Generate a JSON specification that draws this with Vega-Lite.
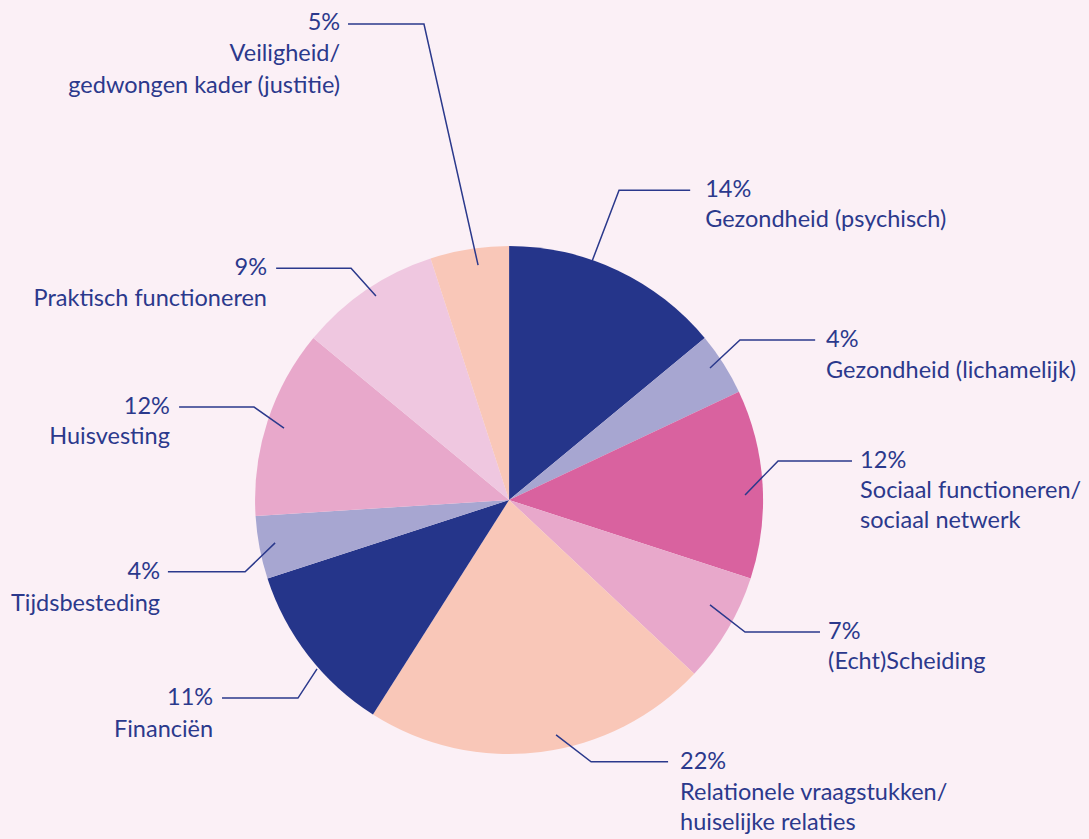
{
  "$schema": "https://vega.github.io/schema/vega-lite/v6.json",
  "autosize": {"type": "fit", "contains": "padding"},
  "width": 1089,
  "height": 839,
  "padding": 0,
  "background": "#fbf0f6",
  "config": {"view": {"stroke": null}},
  "datasets": {
    "slices": [
      {"cat": "Gezondheid (psychisch)", "pct": 14, "order": 1},
      {"cat": "Gezondheid (lichamelijk)", "pct": 4, "order": 2},
      {"cat": "Sociaal functioneren/sociaal netwerk", "pct": 12, "order": 3},
      {"cat": "(Echt)Scheiding", "pct": 7, "order": 4},
      {"cat": "Relationele vraagstukken/huiselijke relaties", "pct": 22, "order": 5},
      {"cat": "Financiën", "pct": 11, "order": 6},
      {"cat": "Tijdsbesteding", "pct": 4, "order": 7},
      {"cat": "Huisvesting", "pct": 12, "order": 8},
      {"cat": "Praktisch functioneren", "pct": 9, "order": 9},
      {"cat": "Veiligheid/gedwongen kader (justitie)", "pct": 5, "order": 10}
    ],
    "leaders": [
      {"cat": "Gezondheid (psychisch)", "i": 1, "X": 32.7, "Y": 94.1},
      {"cat": "Gezondheid (psychisch)", "i": 2, "X": 43.3, "Y": 122.0},
      {"cat": "Gezondheid (psychisch)", "i": 3, "X": 71.3, "Y": 122.0},
      {"cat": "Gezondheid (lichamelijk)", "i": 1, "X": 79.1, "Y": 52.0},
      {"cat": "Gezondheid (lichamelijk)", "i": 2, "X": 90.9, "Y": 63.0},
      {"cat": "Gezondheid (lichamelijk)", "i": 3, "X": 120.5, "Y": 63.0},
      {"cat": "Sociaal functioneren/sociaal netwerk", "i": 1, "X": 92.9, "Y": 2.0},
      {"cat": "Sociaal functioneren/sociaal netwerk", "i": 2, "X": 105.9, "Y": 15.4},
      {"cat": "Sociaal functioneren/sociaal netwerk", "i": 3, "X": 135.0, "Y": 15.4},
      {"cat": "(Echt)Scheiding", "i": 1, "X": 79.1, "Y": -41.3},
      {"cat": "(Echt)Scheiding", "i": 2, "X": 92.9, "Y": -52.0},
      {"cat": "(Echt)Scheiding", "i": 3, "X": 122.4, "Y": -52.0},
      {"cat": "Relationele vraagstukken/huiselijke relaties", "i": 1, "X": 18.5, "Y": -92.5},
      {"cat": "Relationele vraagstukken/huiselijke relaties", "i": 2, "X": 32.3, "Y": -103.1},
      {"cat": "Relationele vraagstukken/huiselijke relaties", "i": 3, "X": 62.6, "Y": -103.1},
      {"cat": "Financiën", "i": 1, "X": -75.6, "Y": -66.5},
      {"cat": "Financiën", "i": 2, "X": -83.1, "Y": -78.0},
      {"cat": "Financiën", "i": 3, "X": -113.0, "Y": -78.0},
      {"cat": "Tijdsbesteding", "i": 1, "X": -92.1, "Y": -16.9},
      {"cat": "Tijdsbesteding", "i": 2, "X": -103.9, "Y": -28.3},
      {"cat": "Tijdsbesteding", "i": 3, "X": -134.3, "Y": -28.3},
      {"cat": "Huisvesting", "i": 1, "X": -88.6, "Y": 28.3},
      {"cat": "Huisvesting", "i": 2, "X": -100.4, "Y": 36.6},
      {"cat": "Huisvesting", "i": 3, "X": -129.9, "Y": 36.6},
      {"cat": "Praktisch functioneren", "i": 1, "X": -52.4, "Y": 80.3},
      {"cat": "Praktisch functioneren", "i": 2, "X": -62.2, "Y": 91.3},
      {"cat": "Praktisch functioneren", "i": 3, "X": -91.7, "Y": 91.3},
      {"cat": "Veiligheid/gedwongen kader (justitie)", "i": 1, "X": -12.2, "Y": 92.5},
      {"cat": "Veiligheid/gedwongen kader (justitie)", "i": 2, "X": -33.5, "Y": 187.4},
      {"cat": "Veiligheid/gedwongen kader (justitie)", "i": 3, "X": -63.4, "Y": 187.4}
    ],
    "labels": [
      {"t": "14%", "X": 77.2, "Y": 122.0, "side": "L"},
      {"t": "Gezondheid (psychisch)", "X": 77.2, "Y": 110.2, "side": "L"},
      {"t": "4%", "X": 124.8, "Y": 63.0, "side": "L"},
      {"t": "Gezondheid (lichamelijk)", "X": 124.8, "Y": 50.8, "side": "L"},
      {"t": "12%", "X": 138.2, "Y": 15.4, "side": "L"},
      {"t": "Sociaal functioneren/", "X": 138.2, "Y": 3.5, "side": "L"},
      {"t": "sociaal netwerk", "X": 138.2, "Y": -8.3, "side": "L"},
      {"t": "7%", "X": 125.6, "Y": -52.0, "side": "L"},
      {"t": "(Echt)Scheiding", "X": 125.6, "Y": -63.8, "side": "L"},
      {"t": "22%", "X": 67.3, "Y": -103.1, "side": "L"},
      {"t": "Relationele vraagstukken/", "X": 67.3, "Y": -115.4, "side": "L"},
      {"t": "huiselijke relaties", "X": 67.3, "Y": -127.2, "side": "L"},
      {"t": "11%", "X": -116.5, "Y": -78.0, "side": "R"},
      {"t": "Financiën", "X": -116.5, "Y": -90.6, "side": "R"},
      {"t": "4%", "X": -137.4, "Y": -28.3, "side": "R"},
      {"t": "Tijdsbesteding", "X": -137.4, "Y": -40.9, "side": "R"},
      {"t": "12%", "X": -133.5, "Y": 36.6, "side": "R"},
      {"t": "Huisvesting", "X": -133.5, "Y": 24.8, "side": "R"},
      {"t": "9%", "X": -95.3, "Y": 91.3, "side": "R"},
      {"t": "Praktisch functioneren", "X": -95.3, "Y": 79.1, "side": "R"},
      {"t": "5%", "X": -66.5, "Y": 187.8, "side": "R"},
      {"t": "Veiligheid/", "X": -66.5, "Y": 175.6, "side": "R"},
      {"t": "gedwongen kader (justitie)", "X": -66.5, "Y": 163.0, "side": "R"}
    ]
  },
  "layer": [
    {
      "data": {"name": "slices"},
      "mark": {"type": "arc", "outerRadius": 254, "stroke": null},
      "encoding": {
        "x": {"datum": 0, "type": "quantitative", "scale": {"domain": [-200.4, 228.3], "nice": false, "zero": false}, "axis": null},
        "y": {"datum": 0, "type": "quantitative", "scale": {"domain": [-133.5, 196.9], "nice": false, "zero": false}, "axis": null},
        "theta": {"field": "pct", "type": "quantitative", "stack": true},
        "order": {"field": "order", "type": "quantitative"},
        "color": {
          "field": "cat",
          "type": "nominal",
          "legend": null,
          "scale": {
            "domain": ["Gezondheid (psychisch)", "Gezondheid (lichamelijk)", "Sociaal functioneren/sociaal netwerk", "(Echt)Scheiding", "Relationele vraagstukken/huiselijke relaties", "Financiën", "Tijdsbesteding", "Huisvesting", "Praktisch functioneren", "Veiligheid/gedwongen kader (justitie)"],
            "range": ["#25358a", "#a7a6d1", "#d9629f", "#e8a8cb", "#f9c7b8", "#25358a", "#a7a6d1", "#e8a8cb", "#efc7e0", "#f9c7b8"]
          }
        }
      }
    },
    {
      "data": {"name": "leaders"},
      "mark": {"type": "line", "color": "#2b398c", "strokeWidth": 1.5},
      "encoding": {
        "x": {"field": "X", "type": "quantitative", "scale": {"domain": [-200.4, 228.3], "nice": false, "zero": false}, "axis": null},
        "y": {"field": "Y", "type": "quantitative", "scale": {"domain": [-133.5, 196.9], "nice": false, "zero": false}, "axis": null},
        "detail": {"field": "cat", "type": "nominal"},
        "order": {"field": "i", "type": "quantitative"}
      }
    },
    {
      "data": {"name": "labels"},
      "transform": [{"filter": "datum.side === 'L'"}],
      "mark": {"type": "text", "align": "left", "baseline": "middle", "font": "Lato", "fontSize": 23.5, "color": "#2b398c"},
      "encoding": {
        "x": {"field": "X", "type": "quantitative", "scale": {"domain": [-200.4, 228.3], "nice": false, "zero": false}, "axis": null},
        "y": {"field": "Y", "type": "quantitative", "scale": {"domain": [-133.5, 196.9], "nice": false, "zero": false}, "axis": null},
        "text": {"field": "t", "type": "nominal"}
      }
    },
    {
      "data": {"name": "labels"},
      "transform": [{"filter": "datum.side === 'R'"}],
      "mark": {"type": "text", "align": "right", "baseline": "middle", "font": "Lato", "fontSize": 23.5, "color": "#2b398c"},
      "encoding": {
        "x": {"field": "X", "type": "quantitative", "scale": {"domain": [-200.4, 228.3], "nice": false, "zero": false}, "axis": null},
        "y": {"field": "Y", "type": "quantitative", "scale": {"domain": [-133.5, 196.9], "nice": false, "zero": false}, "axis": null},
        "text": {"field": "t", "type": "nominal"}
      }
    }
  ]
}
